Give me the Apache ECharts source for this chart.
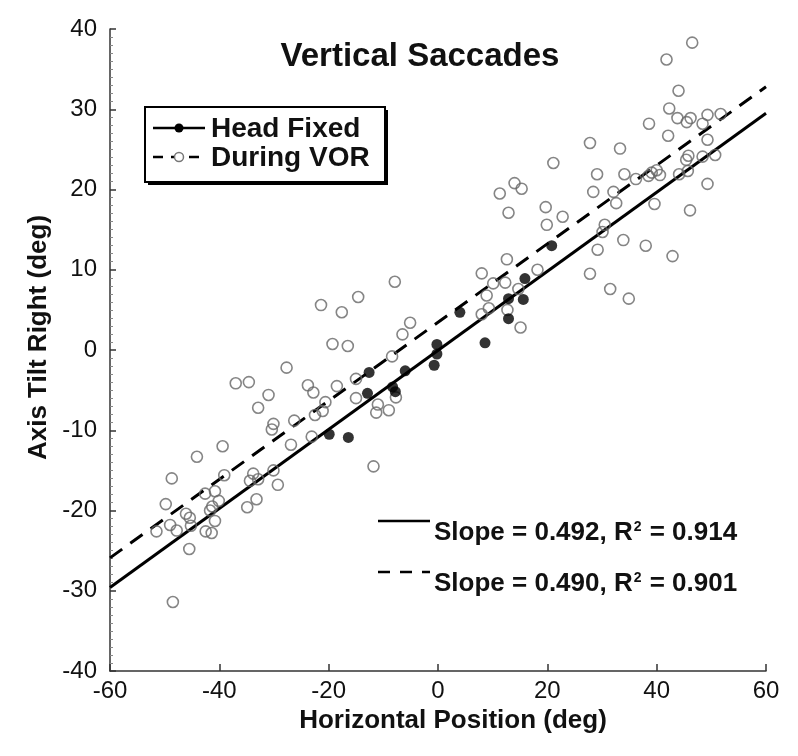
<!DOCTYPE html>
<html>
<head>
<meta charset="utf-8">
<script src="https://cdn.jsdelivr.net/npm/echarts@6/dist/echarts.min.js"></script>
<style>
html,body{margin:0;padding:0;background:#fff;}
#chart{width:798px;height:756px;}
</style>
</head>
<body>
<div id="chart"></div>
<script>
// ---- data ----
var headFixedX = [20.8, 15.9, 15.6, 12.9, 12.9, 8.6, 4.0, -0.2, -0.2, -0.7, -6.0, -8.3, -7.8, -12.6, -12.9, -16.4, -19.9];
var headFixedY = [13.0, 8.9, 6.3, 6.4, 3.9, 0.9, 4.7, 0.7, -0.5, -1.9, -2.6, -4.6, -5.2, -2.8, -5.4, -10.9, -10.5];

var vorX = [
  -19.3, -18.5, -27.7, -37.0, -34.6, -31.0, -32.9, -23.8, -22.8, -20.6, -21.1, -22.5, -30.1, -30.4, -26.3,
  -26.9, -23.1, -39.4, -44.1, -48.7, -39.1, -33.8, -34.4, -32.9, -30.1, -29.3, -33.2, -34.9, -40.8, -42.6,
  -40.1, -41.3, -41.7, -40.8, -42.5, -41.4, -49.8, -46.1, -45.4, -45.2, -49.0, -47.8, -51.5, -45.5, -48.5,
  19.9, 12.6, 8.0, 10.1, 12.3, 18.2, 14.7, 8.9, 9.3, 8.0, 12.7, 15.1,
  -7.9, -14.6, -21.4, -17.6, -5.1, -6.5, -16.5, -8.4, -15.0, -15.0, -11.0, -11.3, -9.0, -7.7, -11.8,
  46.5, 41.8, 44.0, 42.3, 43.8, 45.5, 46.2, 48.4, 49.3, 51.7, 38.6, 42.1, 49.3, 27.8, 33.3,
  21.1, 45.8, 45.4, 48.4, 50.7, 29.1, 34.1, 36.2, 38.5, 39.1, 40.0, 40.6, 44.1, 45.7, 49.3,
  46.1, 39.6, 32.1, 28.4, 32.6, 14.0, 15.3, 11.3, 12.9, 19.7, 22.8, 30.5, 30.1, 33.9, 29.2,
  38.0, 42.9, 27.8, 31.5, 34.9
];
var vorY = [
  0.75, -4.5, -2.2, -4.15, -4.0, -5.6, -7.2, -4.4, -5.3, -6.5, -7.6, -8.1, -9.2, -9.9, -8.8,
  -11.8, -10.8, -12.0, -13.3, -16.0, -15.6, -15.4, -16.3, -16.1, -15.0, -16.8, -18.6, -19.6, -17.6, -17.9,
  -18.8, -19.5, -20.0, -21.3, -22.6, -22.8, -19.2, -20.4, -20.9, -21.9, -21.8, -22.5, -22.6, -24.8, -31.4,
  15.6, 11.3, 9.55, 8.3, 8.4, 10.0, 7.6, 6.8, 5.2, 4.45, 5.0, 2.8,
  8.5, 6.6, 5.6, 4.7, 3.4, 1.95, 0.5, -0.8, -3.6, -6.0, -6.8, -7.8, -7.5, -5.9, -14.5,
  38.3, 36.2, 32.3, 30.1, 28.9, 28.4, 28.9, 28.2, 29.3, 29.4, 28.2, 26.7, 26.2, 25.8, 25.1,
  23.3, 24.2, 23.7, 24.1, 24.3, 21.9, 21.9, 21.3, 21.7, 22.1, 22.4, 21.8, 21.9, 22.3, 20.7,
  17.4, 18.2, 19.7, 19.7, 18.3, 20.8, 20.1, 19.5, 17.1, 17.8, 16.6, 15.6, 14.7, 13.7, 12.5,
  13.0, 11.7, 9.5, 7.6, 6.4
];

var fitX = [-60, 60];
var headFixedFitY = [-29.6, 29.5];
var vorFitY = [-25.9, 32.8];

var xTicks = [-60, -40, -20, 0, 20, 40, 60];
var yTicks = [-40, -30, -20, -10, 0, 10, 20, 30, 40];

var titleText = 'Vertical Saccades';
var xTitle = 'Horizontal Position (deg)';
var yTitle = 'Axis Tilt Right (deg)';
var legendNames = ['Head Fixed', 'During VOR'];
var slopes = ['0.492', '0.490'];
var r2s = ['0.914', '0.901'];

// ---- build ----
function zip(a, b) { return a.map(function (v, i) { return [v, b[i]]; }); }
var FONT = '"Liberation Sans", Arial, Helvetica, sans-serif';

var chart = echarts.init(document.getElementById('chart'));
var richSlope = {
  a: { fontFamily: FONT, fontSize: 26, fontWeight: 'bold', fill: '#111' },
  s: { fontFamily: FONT, fontSize: 14, fontWeight: 'bold', fill: '#111', verticalAlign: 'top', padding: [0, 1, 12, 1] }
};
var option = {
  backgroundColor: '#fff',
  animation: false,
  title: {
    text: titleText, left: 415, top: 35, textAlign: 'center',
    textStyle: { fontFamily: FONT, fontSize: 33, fontWeight: 'bold', color: '#111' }
  },
  grid: { left: 110, right: 32, top: 29, bottom: 85, containLabel: false },
  xAxis: {
    type: 'value', min: -60, max: 60, interval: 20,
    name: xTitle, nameLocation: 'middle', nameGap: 34,
    nameTextStyle: { fontFamily: FONT, fontSize: 26, fontWeight: 'bold', color: '#111', padding: [0, 0, 0, 30] },
    axisLine: { onZero: false, lineStyle: { color: '#333', width: 1.5 } },
    axisTick: { inside: true, length: 7, lineStyle: { color: '#333', width: 1.5 } },
    axisLabel: { fontFamily: FONT, fontSize: 24, color: '#111', margin: 8,
      formatter: function (v) { return xTicks.indexOf(v) >= 0 ? String(v) : ''; } },
    splitLine: { show: false }
  },
  yAxis: {
    type: 'value', min: -40, max: 40, interval: 10,
    name: yTitle, nameLocation: 'middle', nameGap: 57, nameRotate: 90,
    nameTextStyle: { fontFamily: FONT, fontSize: 26, fontWeight: 'bold', color: '#111', padding: [0, 0, 0, 25] },
    axisLine: { onZero: false, lineStyle: { color: '#333', width: 1.5 } },
    axisTick: { inside: true, length: 6, lineStyle: { color: '#333', width: 1.5 } },
    minorTick: { show: true, splitNumber: 10, length: 3, lineStyle: { color: '#888', width: 1 } },
    axisLabel: { fontFamily: FONT, fontSize: 24, color: '#111', margin: 13,
      formatter: function (v) { return yTicks.indexOf(v) >= 0 ? String(v) : ''; } },
    splitLine: { show: false }
  },
  series: [
    {
      type: 'line', data: zip(fitX, headFixedFitY), symbol: 'none', z: 2,
      lineStyle: { color: '#000', width: 3 }
    },
    {
      type: 'line', data: zip(fitX, vorFitY), symbol: 'none', z: 2,
      lineStyle: { color: '#000', width: 3, type: [15, 10] }
    },
    {
      type: 'scatter', name: legendNames[1], data: zip(vorX, vorY), symbol: 'circle', symbolSize: 11, z: 3,
      itemStyle: { color: 'rgba(255,255,255,0)', borderColor: '#666', borderWidth: 1.6 }
    },
    {
      type: 'scatter', name: legendNames[0], data: zip(headFixedX, headFixedY), symbol: 'circle', symbolSize: 11, z: 4,
      itemStyle: { color: '#000', borderColor: '#000', borderWidth: 0 }
    }
  ],
  graphic: [
    // legend box
    { type: 'rect', shape: { x: 148, y: 110, width: 240, height: 75 }, style: { fill: '#000' }, z: 10 },
    { type: 'rect', shape: { x: 145, y: 107, width: 240, height: 75 }, style: { fill: '#fff', stroke: '#000', lineWidth: 2 }, z: 11 },
    { type: 'line', shape: { x1: 153, y1: 128, x2: 205, y2: 128 }, style: { stroke: '#000', lineWidth: 2.5 }, z: 12 },
    { type: 'circle', shape: { cx: 179, cy: 128, r: 4.5 }, style: { fill: '#000' }, z: 12 },
    { type: 'text', x: 211, y: 129, style: { text: legendNames[0], fontFamily: FONT, fontSize: 28, fontWeight: 'bold', fill: '#111', textVerticalAlign: 'middle' }, z: 12 },
    { type: 'line', shape: { x1: 153, y1: 157, x2: 205, y2: 157 }, style: { stroke: '#000', lineWidth: 2.5, lineDash: [10, 8] }, z: 12 },
    { type: 'circle', shape: { cx: 179, cy: 157, r: 4.5 }, style: { fill: '#fff', stroke: '#777', lineWidth: 1.5 }, z: 13 },
    { type: 'text', x: 211, y: 158, style: { text: legendNames[1], fontFamily: FONT, fontSize: 28, fontWeight: 'bold', fill: '#111', textVerticalAlign: 'middle' }, z: 12 },
    // slope annotations
    { type: 'line', shape: { x1: 378, y1: 521, x2: 430, y2: 521 }, style: { stroke: '#000', lineWidth: 2.5 }, z: 12 },
    { type: 'text', x: 434, y: 533, style: {
        rich: richSlope,
        text: '{a|Slope = ' + slopes[0] + ', R}{s|2}{a| = ' + r2s[0] + '}', textVerticalAlign: 'middle' }, z: 12 },
    { type: 'line', shape: { x1: 378, y1: 572, x2: 430, y2: 572 }, style: { stroke: '#000', lineWidth: 2.5, lineDash: [12, 10] }, z: 12 },
    { type: 'text', x: 434, y: 584, style: {
        rich: richSlope,
        text: '{a|Slope = ' + slopes[1] + ', R}{s|2}{a| = ' + r2s[1] + '}', textVerticalAlign: 'middle' }, z: 12 }
  ]
};
chart.setOption(option);
</script>
</body>
</html>
